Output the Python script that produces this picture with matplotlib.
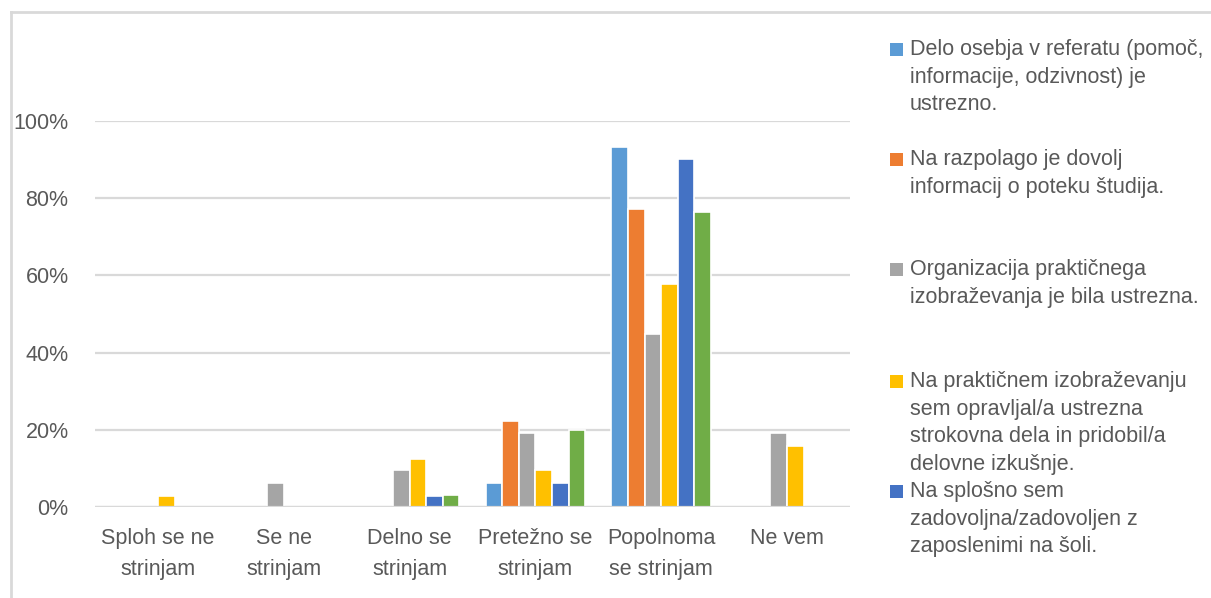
import matplotlib.pyplot as plt
import matplotlib.patches as mpatches
import numpy as np

# categories on the x axis
categories = ["Sploh se ne\nstrinjam", "Se ne\nstrinjam", "Delno se\nstrinjam",
              "Pretežno se\nstrinjam", "Popolnoma\nse strinjam", "Ne vem"]

# series labels (legend) - the 6th (green) entry is cut off in the original
series_labels = [
    "Delo osebja v referatu (pomoč,\ninformacije, odzivnost) je\nustrezno.",
    "Na razpolago je dovolj\ninformacij o poteku študija.",
    "Organizacija praktičnega\nizobraževanja je bila ustrezna.",
    "Na praktičnem izobraževanju\nsem opravljal/a ustrezna\nstrokovna dela in pridobil/a\ndelovne izkušnje.",
    "Na splošno sem\nzadovoljna/zadovoljen z\nzaposlenimi na šoli.",
]

# values in percent, one list per series
s1 = [0, 0, 0, 6.2, 93.2, 0]
s2 = [0, 0, 0, 22.2, 77.2, 0]
s3 = [0, 6.2, 9.5, 19.1, 44.9, 19.1]
s4 = [2.9, 0, 12.5, 9.5, 57.8, 15.8]
s5 = [0, 0, 2.9, 6.2, 90.1, 0]
s6 = [0, 0, 3.2, 19.9, 76.5, 0]

colors = ["#5B9BD5", "#ED7D31", "#A5A5A5", "#FFC000", "#4472C4", "#70AD47"]
txt = "#595959"

plt.rcParams['font.family'] = ['Liberation Sans', 'DejaVu Sans']

fig = plt.figure(figsize=(12.11, 5.98), dpi=100)
W, H = 1211, 598
ax = fig.add_axes([95 / W, 1 - 507 / H, 755 / W, 386 / H])

series = [s1, s2, s3, s4, s5, s6]
x = np.arange(len(categories))
pitch = 0.132
for i, vals in enumerate(series):
    off = (i - 2.5) * pitch
    ax.bar(x + off, vals, width=pitch, color=colors[i],
           edgecolor="white", linewidth=1.2, zorder=3)

ax.set_xlim(-0.5, len(categories) - 0.5)
ax.set_ylim(0, 100)
ax.set_yticks([0, 20, 40, 60, 80, 100])
ax.set_yticklabels([f"{v}%" for v in [0, 20, 40, 60, 80, 100]])
ax.set_xticks(x)
ax.set_xticklabels(categories, linespacing=1.65)
ax.tick_params(axis='both', length=0, colors=txt, labelsize=15.5)
ax.tick_params(axis='x', pad=15)
ax.tick_params(axis='y', pad=19)
ax.grid(axis='y', color="#D9D9D9", linewidth=1.6, zorder=0)
for sp in ax.spines.values():
    sp.set_visible(False)
ax.axhline(0, color="#D9D9D9", linewidth=1.6, zorder=4)

# legend drawn entry by entry, evenly spaced like the original
leg_y = [49, 159, 269, 381, 491]   # centre of each entry's first line, px from top
for i, lab in enumerate(series_labels):
    yc = 1 - leg_y[i] / H
    fig.add_artist(mpatches.Rectangle((890 / W, yc - 6.5 / H), 13 / W, 13 / H,
                                      transform=fig.transFigure,
                                      facecolor=colors[i], edgecolor="none"))
    fig.text(910 / W, yc + 10 / H, lab, ha='left', va='top', color=txt,
             fontsize=15.5, linespacing=1.42)

# outer chart frame (cut off at right and bottom)
fig.add_artist(plt.Line2D([11 / W, 11 / W], [0, 1 - 12 / H],
                          transform=fig.transFigure, color="#D9D9D9", linewidth=2))
fig.add_artist(plt.Line2D([11 / W, 1], [1 - 12 / H, 1 - 12 / H],
                          transform=fig.transFigure, color="#D9D9D9", linewidth=2))

fig.savefig("out.png", dpi=100)
